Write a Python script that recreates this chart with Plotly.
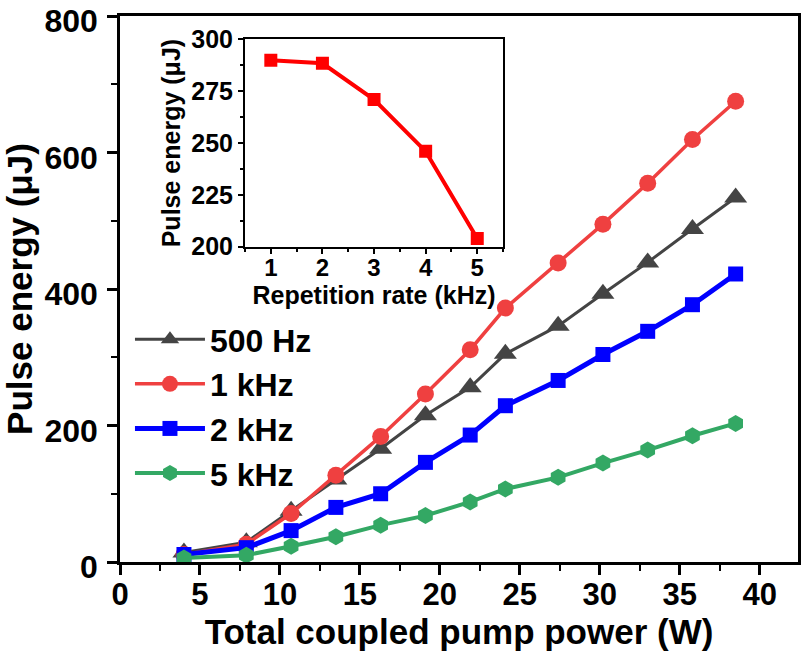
import plotly.graph_objects as go

# ---- data ----
pump_power = [4.0, 7.9, 10.7, 13.5, 16.3, 19.1, 21.9, 24.1, 27.4, 30.2, 33.0, 35.8, 38.5]
energy_500hz = [14, 29, 75, 121, 166, 215, 256, 305, 346, 393, 439, 488, 534]
energy_1khz = [11, 26, 71, 127, 184, 246, 311, 372, 438, 495, 555, 619, 675]
energy_2khz = [11, 21, 46, 80, 100, 146, 186, 229, 266, 304, 338, 377, 422]
energy_5khz = [6, 10, 23, 37, 54, 68, 88, 107, 124, 145, 164, 185, 203]

rep_rate = [1, 2, 3, 4, 5]
inset_energy = [290, 288.5, 271, 246, 204]

series_names = ["500 Hz", "1 kHz", "2 kHz", "5 kHz"]

FONT = "Liberation Sans, Arial, sans-serif"

fig = go.Figure()

styles = [
    dict(color="#444444", symbol="triangle-up", size=20, lw=3),
    dict(color="#ef4040", symbol="circle", size=17, lw=3.5),
    dict(color="#0000ff", symbol="square", size=15, lw=5),
    dict(color="#33a864", symbol="hexagon", size=17, lw=4),
]
for name, yv, st in zip(series_names, [energy_500hz, energy_1khz, energy_2khz, energy_5khz], styles):
    fig.add_trace(go.Scatter(
        x=pump_power, y=yv, name=name, mode="lines+markers",
        line=dict(color=st["color"], width=st["lw"]),
        marker=dict(symbol=st["symbol"], size=st["size"], color=st["color"],
                    line=dict(width=0)),
        xaxis="x", yaxis="y",
    ))

fig.add_trace(go.Scatter(
    x=rep_rate, y=inset_energy, mode="lines+markers", showlegend=False,
    line=dict(color="#ff0000", width=4),
    marker=dict(symbol="square", size=13, color="#ff0000"),
    xaxis="x2", yaxis="y2",
))

axis_common = dict(
    showline=True, linecolor="black", mirror=True, ticks="outside",
    tickcolor="black", showgrid=False, zeroline=False, automargin=False,
    ticklabeloverflow="allow",
)

fig.update_layout(
    width=804, height=661,
    margin=dict(l=120, r=6, t=16, b=99),
    paper_bgcolor="white", plot_bgcolor="white",
    font=dict(family=FONT, color="black", weight="bold"),
    xaxis=dict(
        **axis_common, range=[0, 42.4], dtick=5, tick0=0, linewidth=2.5,
        ticklen=10, tickwidth=2.5, ticklabelstandoff=-7,
        minor=dict(ticks="outside", ticklen=6, tickwidth=2, dtick=2.5, tickcolor="black"),
        tickfont=dict(size=31, family=FONT, weight="bold"),
        title=dict(text="Total coupled pump power (W)",
                   font=dict(size=35, family=FONT, weight="bold"), standoff=5),
    ),
    yaxis=dict(
        **axis_common, range=[0, 800], dtick=200, tick0=0, linewidth=2.5,
        ticklen=10, tickwidth=2.5, ticklabelstandoff=3, ticklabelshift=5,
        minor=dict(ticks="outside", ticklen=6, tickwidth=2, dtick=100, tickcolor="black"),
        tickfont=dict(size=32, family=FONT, weight="bold"),
        title=dict(text="Pulse energy (μJ)",
                   font=dict(size=35, family=FONT, weight="bold"), standoff=10),
    ),
    xaxis2=dict(
        **axis_common, domain=[0.1844, 0.565], anchor="y2", range=[0.5, 5.5],
        dtick=1, linewidth=2, ticklen=5, tickwidth=2, ticklabelstandoff=-6,
        minor=dict(ticks="outside", ticklen=3, tickwidth=1.5, dtick=0.5, tickcolor="black"),
        tickfont=dict(size=24, family=FONT, weight="bold"),
        title=dict(text="Repetition rate (kHz)",
                   font=dict(size=25, family=FONT, weight="bold"), standoff=0),
    ),
    yaxis2=dict(
        **axis_common, domain=[0.5775, 0.957], anchor="x2", range=[200, 300],
        dtick=25, linewidth=2, ticklen=5, tickwidth=2,
        minor=dict(ticks="outside", ticklen=3, tickwidth=1.5, dtick=12.5, tickcolor="black"),
        tickfont=dict(size=25, family=FONT, weight="bold"),
        title=dict(text="Pulse energy (μJ)",
                   font=dict(size=25, family=FONT, weight="bold"), standoff=4),
    ),
    legend=dict(
        x=0.0147, y=0.458, xanchor="left", yanchor="top",
        bgcolor="rgba(0,0,0,0)", borderwidth=0,
        font=dict(size=32, family=FONT, weight="bold"),
        itemwidth=70, tracegroupgap=0,
    ),
)

fig.write_html("out.html")
